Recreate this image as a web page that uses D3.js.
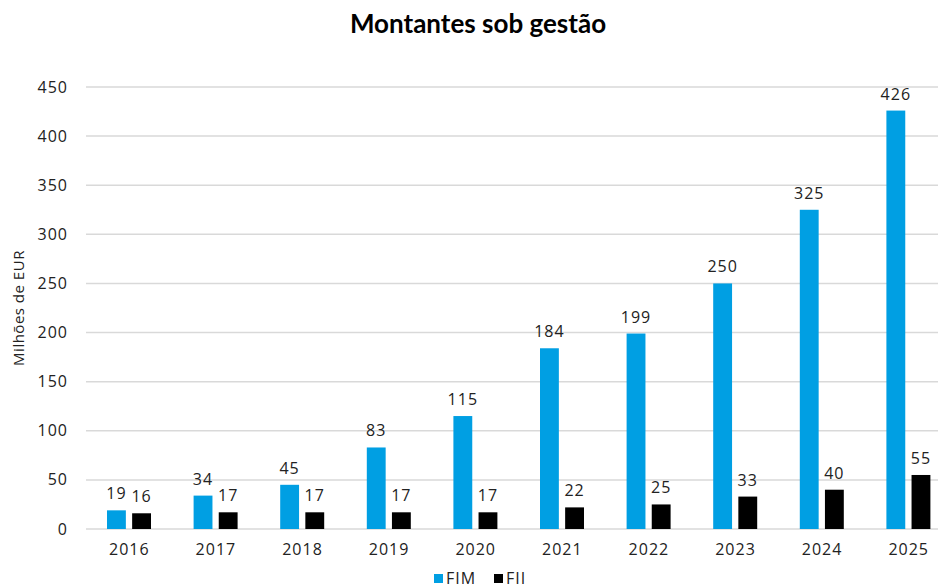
<!DOCTYPE html>
<html lang="pt">
<head>
  <meta charset="UTF-8">
  <title>Montantes sob gestão</title>
  <style>
    body { margin: 0; background: #fff; }
    svg { display: block; }
  </style>
</head>
<body>
  <div id="chart"></div>
  <script src="https://d3js.org/d3.v7.min.js"></script>
  <script>
    const anos = ['2016', '2017', '2018', '2019', '2020', '2021', '2022', '2023', '2024', '2025']
    const fim = [19, 34, 45, 83, 115, 184, 199, 250, 325, 426]
    const fii = [16, 17, 17, 17, 17, 22, 25, 33, 40, 55]
    const series = ['FIM', 'FII']
    const cores = ['#009fe3', '#000000']
    const yTicks = [0, 50, 100, 150, 200, 250, 300, 350, 400, 450]

    const width = 938
    const height = 588
    const margin = { top: 87, right: -14, bottom: 59, left: 86 }
    const fonte = '"Open Sans", sans-serif'

    const svg = d3.select('#chart').append('svg')
      .attr('width', width)
      .attr('height', height)
      .style('overflow', 'hidden')

    const x = d3.scaleBand()
      .domain(anos)
      .range([margin.left, width - margin.right])

    // as duas barras de cada ano ocupam o centro da banda
    const x1 = d3.scaleBand()
      .domain(series)
      .range([21, 65])
      .paddingInner(0.25)

    const y = d3.scaleLinear()
      .domain([0, 450])
      .range([height - margin.bottom, margin.top])

    // grelha
    svg.append('g')
      .selectAll('line')
      .data(yTicks)
      .join('line')
      .attr('x1', margin.left)
      .attr('x2', width)
      .attr('y1', d => y(d))
      .attr('y2', d => y(d))
      .attr('stroke', '#d9d9d9')
      .attr('stroke-width', 1.5)

    // eixo y
    svg.append('g')
      .selectAll('text')
      .data(yTicks)
      .join('text')
      .attr('x', 68)
      .attr('y', d => y(d))
      .attr('dy', '0.35em')
      .attr('text-anchor', 'end')
      .style('font', `16px ${fonte}`)
      .style('letter-spacing', '1px')
      .attr('fill', '#222')
      .text(d => d)

    // eixo x
    svg.append('g')
      .selectAll('text')
      .data(anos)
      .join('text')
      .attr('x', d => x(d) + x.bandwidth() / 2)
      .attr('y', 555)
      .attr('text-anchor', 'middle')
      .style('font', `16px ${fonte}`)
      .style('letter-spacing', '1px')
      .attr('fill', '#222')
      .text(d => d)

    const dados = anos.map((a, i) => ({ ano: a, valores: [
      { s: 'FIM', v: fim[i] }, { s: 'FII', v: fii[i] }
    ] }))

    const grupo = svg.append('g')
      .selectAll('g')
      .data(dados)
      .join('g')
      .attr('transform', d => `translate(${x(d.ano)},0)`)

    grupo.selectAll('rect')
      .data(d => d.valores)
      .join('rect')
      .attr('x', d => x1(d.s))
      .attr('width', x1.bandwidth())
      .attr('y', d => y(d.v))
      .attr('height', d => y(0) - y(d.v))
      .attr('fill', d => cores[series.indexOf(d.s)])

    grupo.selectAll('text')
      .data(d => d.valores)
      .join('text')
      .attr('x', d => x1(d.s) + x1.bandwidth() / 2)
      .attr('y', d => y(d.v) - 11)
      .attr('text-anchor', 'middle')
      .style('font', `16px ${fonte}`)
      .style('letter-spacing', '1px')
      .attr('fill', '#222')
      .text(d => d.v)

    // título
    svg.append('text')
      .attr('x', 478)
      .attr('y', 33)
      .attr('text-anchor', 'middle')
      .style('font', 'bold 26px Lato, "Open Sans", sans-serif')
      .attr('fill', '#000')
      .text('Montantes sob gestão')

    // título do eixo y
    svg.append('text')
      .attr('transform', 'translate(24,308) rotate(-90)')
      .attr('text-anchor', 'middle')
      .style('font', `15px ${fonte}`)
      .style('letter-spacing', '0.5px')
      .attr('fill', '#222')
      .text('Milhões de EUR')

    // legenda
    const leg = svg.append('g')
      .selectAll('g')
      .data(series)
      .join('g')
      .attr('transform', (d, i) => `translate(${434 + i * 60},574)`)

    leg.append('rect')
      .attr('width', 9)
      .attr('height', 9)
      .attr('fill', (d, i) => cores[i])

    leg.append('text')
      .attr('x', 12)
      .attr('y', 10)
      .style('font', `16px ${fonte}`)
      .style('letter-spacing', '1px')
      .attr('fill', '#222')
      .text(d => d)
  </script>
</body>
</html>
